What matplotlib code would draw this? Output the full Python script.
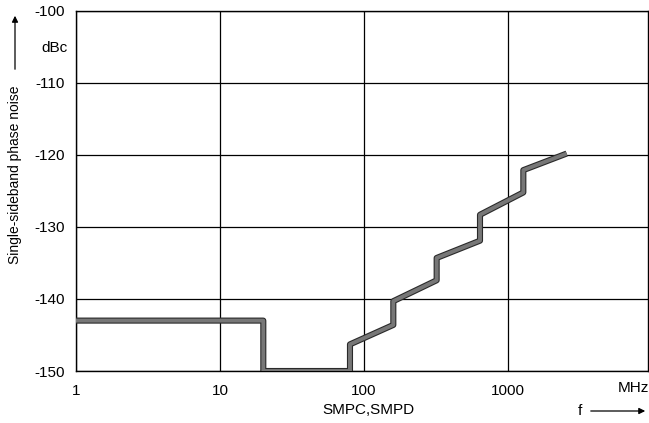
import matplotlib
matplotlib.use("Agg")
import matplotlib.pyplot as plt
import matplotlib.patheffects as pe

plt.rcParams['font.family'] = ['Liberation Sans', 'DejaVu Sans']

freq_mhz = [1, 20, 20, 80, 80, 160, 160, 320, 320, 640, 640, 1280, 1280, 2560]
noise_dbc = [-143.0, -143.0, -150.0, -150.0, -146.3, -143.6, -140.3, -137.4,
             -134.3, -131.9, -128.3, -125.2, -122.1, -119.8]
y_ticks = [-150, -140, -130, -120, -110, -100]
x_ticks = [1, 10, 100, 1000]
x_tick_labels = ["1", "10", "100", "1000"]

fig = plt.figure(figsize=(6.49, 4.23), dpi=100)
W, H = 649, 423
left, right, top, bottom = 76, 648, 11, 371
ax = fig.add_axes([left / W, 1 - bottom / H, (right - left) / W, (bottom - top) / H])

ax.set_xscale('log')
ax.set_xlim(1, 9400)
ax.set_ylim(-150, -100)

ax.plot(freq_mhz, noise_dbc, color='#777777', lw=2.8, solid_joinstyle='round',
        solid_capstyle='butt', zorder=5,
        path_effects=[pe.Stroke(linewidth=4.4, foreground='#2a2a2a'), pe.Normal()])

ax.set_xticks(x_ticks)
ax.set_xticklabels(x_tick_labels)
ax.xaxis.set_minor_locator(matplotlib.ticker.NullLocator())
ax.set_yticks(y_ticks)
ax.set_yticklabels([str(v) for v in y_ticks])
ax.tick_params(axis='both', length=0, labelsize=11, colors='black')
ax.tick_params(axis='y', pad=8)
ax.tick_params(axis='x', pad=9)
ax.grid(True, which='major', color='black', lw=0.9)
for s in ax.spines.values():
    s.set_linewidth(1.0)
    s.set_color('black')

def px(x, y):
    return x / W, 1 - y / H

fig.text(*px(68, 48), "dBc", ha='right', va='center', fontsize=11)
fig.text(*px(15, 175), "Single-sideband phase noise", rotation=90,
         ha='center', va='center', fontsize=10)
fig.add_artist(matplotlib.patches.FancyArrowPatch(px(15, 72), px(15, 13),
               transform=fig.transFigure, arrowstyle='-|>', mutation_scale=9,
               lw=0.9, color='black'))
fig.text(*px(633, 388), "MHz", ha='center', va='center', fontsize=11)
fig.text(*px(368, 410), "SMPC,SMPD", ha='center', va='center', fontsize=11)
fig.text(*px(580, 411), "f", ha='center', va='center', fontsize=11)
fig.add_artist(matplotlib.patches.FancyArrowPatch(px(588, 411), px(648, 411),
               transform=fig.transFigure, arrowstyle='-|>', mutation_scale=9,
               lw=0.9, color='black'))

fig.savefig("out.png", dpi=100)
